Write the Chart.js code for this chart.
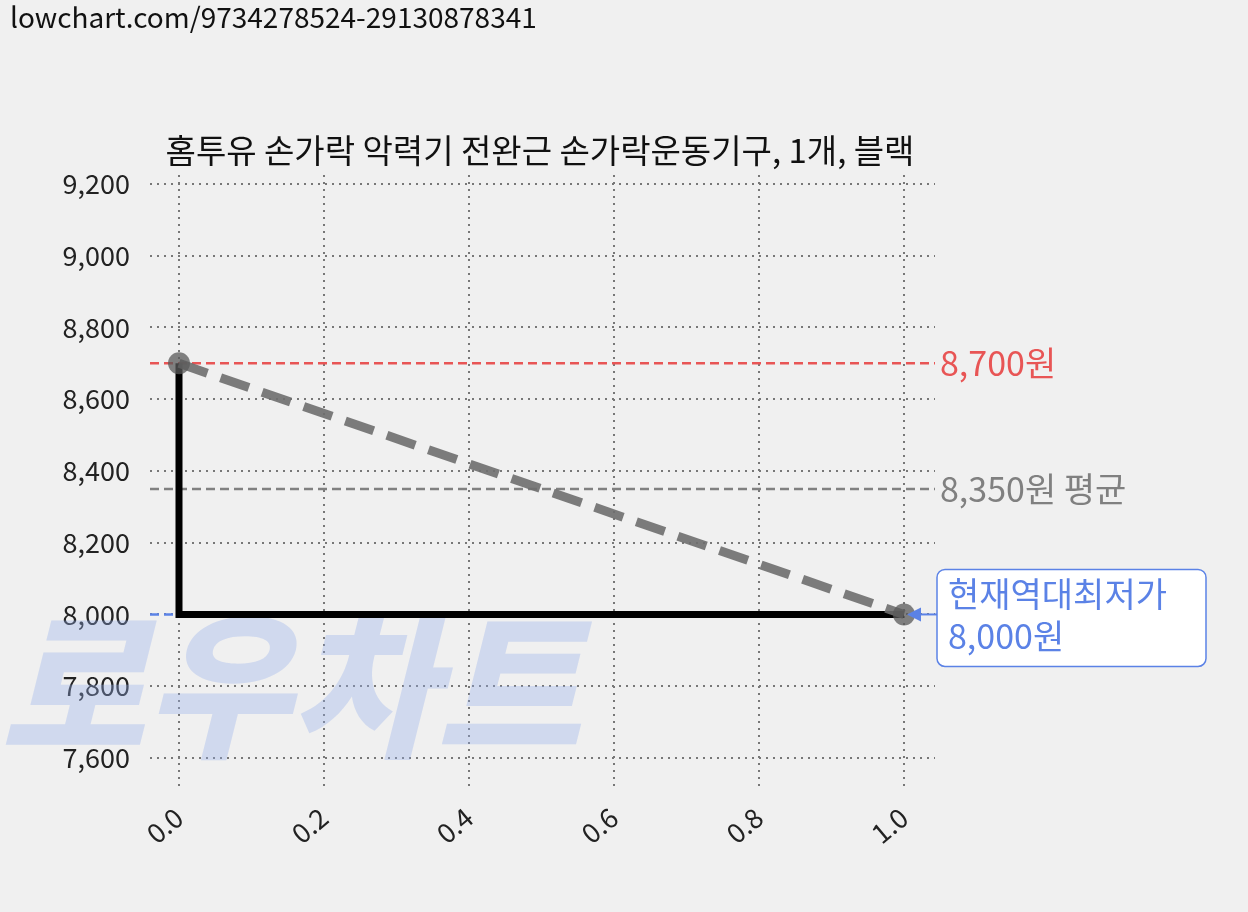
<!DOCTYPE html>
<html>
<head>
<meta charset="utf-8">
<style>
  *{margin:0;padding:0;box-sizing:border-box}
  html,body{width:1248px;height:912px;background:#f0f0f0;overflow:hidden}
  canvas{display:block}
</style>
</head>
<body>
<canvas id="chart" width="1248" height="912"></canvas>
<script src="https://cdn.jsdelivr.net/npm/chart.js@4/dist/chart.umd.min.js"></script>
<script>
// ─── Data ───────────────────────────────────────────
const TITLE = "홈투유 손가락 악력기 전완근 손가락운동기구, 1개, 블랙";
const URL_TEXT = "lowchart.com/9734278524-29130878341";
const priceX = [0, 1];
const priceY = [8700, 8000];
const stepX = [0, 0, 1];
const stepY = [8700, 8000, 8000];
const maxPrice = 8700;
const avgPrice = 8350;
const minPrice = 8000;
const xTicks = [0, 0.2, 0.4, 0.6, 0.8, 1.0];
const yTicks = [7600, 7800, 8000, 8200, 8400, 8600, 8800, 9000, 9200];

const FONT = "'Noto Sans CJK KR', 'Noto Sans', sans-serif";
const pts = (xs, ys) => xs.map((x, i) => ({ x, y: ys[i] }));

// ─── Overlay: watermark, title, reference lines, labels ───
const overlay = {
  id: "overlay",
  beforeDatasetsDraw(chart) {
    const { ctx, scales: { x, y } } = chart;
    ctx.save();
    // watermark
    ctx.font = `italic 900 158px ${FONT}`;
    ctx.fillStyle = "rgba(150,175,235,0.35)";
    ctx.textBaseline = "alphabetic";
    ctx.fillText("로우차트", 0, 745);
    // reference lines
    const hline = (v, color, x0, x1) => {
      ctx.strokeStyle = color; ctx.lineWidth = 2.5; ctx.setLineDash([9, 5]);
      ctx.beginPath(); ctx.moveTo(x0, y.getPixelForValue(v)); ctx.lineTo(x1, y.getPixelForValue(v)); ctx.stroke();
    };
    hline(maxPrice, "#e85555", x.left, x.right);
    hline(avgPrice, "#808080", x.left, x.right);
    hline(minPrice, "#5b82e6", x.left, x.getPixelForValue(1));
    ctx.restore();
  },
  afterDraw(chart) {
    const { ctx, scales: { x, y } } = chart;
    ctx.save();
    ctx.textBaseline = "middle";
    ctx.fillStyle = "#111";
    ctx.font = `28px ${FONT}`;
    ctx.fillText(URL_TEXT, 10, 17);
    ctx.font = `33px ${FONT}`;
    ctx.textAlign = "center";
    ctx.fillText(TITLE, 540, 150);
    ctx.textAlign = "left";
    ctx.font = `34px ${FONT}`;
    ctx.fillStyle = "#e85555";
    ctx.fillText(maxPrice.toLocaleString() + "원", 940, y.getPixelForValue(maxPrice));
    ctx.fillStyle = "#808080";
    ctx.fillText(avgPrice.toLocaleString() + "원 평균", 940, y.getPixelForValue(avgPrice));
    // current low annotation
    const yp = y.getPixelForValue(minPrice);
    const bx = 937, by = yp - 45, bw = 269, bh = 97;
    ctx.fillStyle = "#fff"; ctx.strokeStyle = "#5b82e6"; ctx.lineWidth = 1.5;
    ctx.beginPath(); ctx.roundRect(bx, by, bw, bh, 8); ctx.fill(); ctx.stroke();
    ctx.fillStyle = "#5b82e6";
    ctx.fillText("현재역대최저가", 948, yp - 20);
    ctx.fillText(minPrice.toLocaleString() + "원", 948, yp + 22);
    const ax = x.getPixelForValue(1);
    ctx.beginPath(); ctx.moveTo(ax + 3, yp); ctx.lineTo(ax + 17, yp - 7); ctx.lineTo(ax + 17, yp + 7); ctx.closePath(); ctx.fill();
    ctx.strokeStyle = "#5b82e6"; ctx.lineWidth = 2;
    ctx.beginPath(); ctx.moveTo(ax + 15, yp); ctx.lineTo(bx, yp); ctx.stroke();
    ctx.restore();
  }
};

const grid = { color: "#777", lineWidth: 2, drawTicks: false };
const border = { display: false, dash: [2, 5] };

new Chart(document.getElementById("chart"), {
  type: "scatter",
  data: {
    datasets: [
      {
        data: pts(stepX, stepY), showLine: true, borderColor: "#000", borderWidth: 7,
        pointRadius: 0, order: 2
      },
      {
        data: pts(priceX, priceY), showLine: true, borderColor: "rgba(110,110,110,0.9)",
        borderWidth: 9, borderDash: [30, 14], pointRadius: 11,
        pointBackgroundColor: "rgba(90,90,90,0.75)", pointBorderWidth: 0, order: 1
      }
    ]
  },
  options: {
    responsive: false,
    animation: false,
    layout: { padding: { left: 0, top: 175, right: 313, bottom: 0 } },
    plugins: { legend: { display: false }, tooltip: { enabled: false } },
    scales: {
      x: {
        type: "linear", min: -0.04, max: 1.0428,
        grid, border,
        afterBuildTicks: s => { s.ticks = xTicks.map(v => ({ value: v })); },
        afterFit: s => { s.height = 125; },
        ticks: {
          color: "#222", font: { size: 27, family: FONT }, maxRotation: 40, minRotation: 40,
          padding: 14, callback: v => Number(v).toFixed(1)
        }
      },
      y: {
        min: 7519, max: 9225,
        grid, border,
        afterBuildTicks: s => { s.ticks = yTicks.map(v => ({ value: v })); },
        afterFit: s => { s.width = 150; },
        ticks: {
          color: "#222", font: { size: 27, family: FONT }, padding: 20,
          callback: v => Number(v).toLocaleString()
        }
      }
    }
  },
  plugins: [overlay]
});
</script>
</body>
</html>
